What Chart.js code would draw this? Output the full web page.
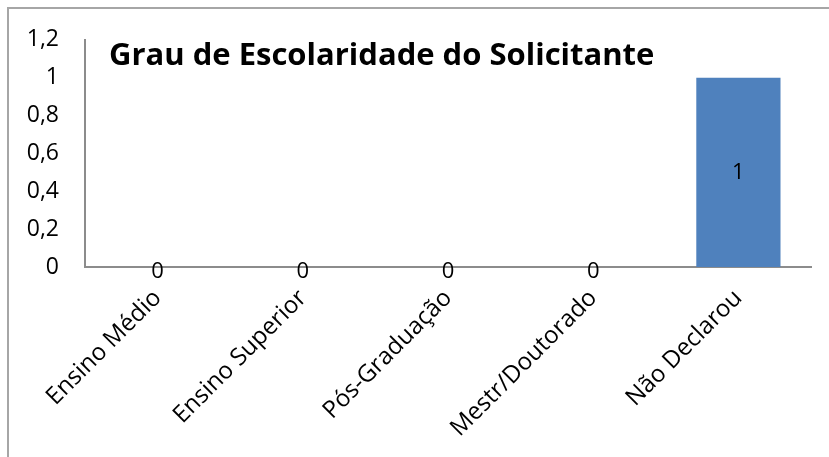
<!DOCTYPE html>
<html>
<head>
<meta charset="utf-8">
<script src="https://cdn.jsdelivr.net/npm/chart.js@4.4.0/dist/chart.umd.min.js"></script>
<style>
  html, body { margin: 0; padding: 0; background: #ffffff; }
  #wrap { position: relative; width: 829px; height: 457px; overflow: hidden; }
  #frame {
    position: absolute; left: 7px; top: 7px; width: 900px; height: 600px;
    border: 2px solid #a6a6a6; box-sizing: border-box;
  }
  canvas { position: absolute; left: 0; top: 0; }
</style>
</head>
<body>
<div id="wrap">
  <div id="frame"></div>
  <canvas id="grau" width="829" height="457"></canvas>
</div>
<script>
// Grau de Escolaridade do Solicitante - data
const categories = ['Ensino Médio', 'Ensino Superior', 'Pós-Graduação', 'Mestr/Doutorado', 'Não Declarou'];
const values = [0, 0, 0, 0, 1];
const chartTitle = 'Grau de Escolaridade do Solicitante';

const FONT = '"Open Sans", "DejaVu Sans", sans-serif';
const AXIS_COLOR = '#8c8c8c';

// format numbers with decimal comma
function fmt(v) {
    return String(Math.round(v * 10) / 10).replace('.', ',');
}

// value labels: zero at the base, others in the middle of the bar
const valueLabels = {
    id: 'valueLabels',
    afterDatasetsDraw(chart) {
        const ctx = chart.ctx;
        const meta = chart.getDatasetMeta(0);
        ctx.save();
        ctx.font = '22px ' + FONT;
        ctx.fillStyle = '#000000';
        ctx.textAlign = 'center';
        ctx.textBaseline = 'middle';
        meta.data.forEach((bar, i) => {
            const v = chart.data.datasets[0].data[i];
            const y = v === 0 ? bar.base + 5 : (bar.y + bar.base) / 2;
            ctx.fillText(fmt(v), bar.x, y);
        });
        ctx.restore();
    }
};

// title sits inside the plot area, top left
const innerTitle = {
    id: 'innerTitle',
    afterDraw(chart) {
        const ctx = chart.ctx;
        ctx.save();
        ctx.font = 'bold 31px ' + FONT;
        ctx.fillStyle = '#000000';
        ctx.textAlign = 'left';
        ctx.textBaseline = 'alphabetic';
        ctx.fillText(chartTitle, 109, 65);
        ctx.restore();
    }
};

const ctx = document.getElementById('grau').getContext('2d');
new Chart(ctx, {
    type: 'bar',
    data: {
        labels: categories,
        datasets: [{
            data: values,
            backgroundColor: '#4f81bd',
            borderWidth: 0,
            categoryPercentage: 1,
            barPercentage: 0.58
        }]
    },
    options: {
        responsive: false,
        animation: false,
        devicePixelRatio: 1,
        layout: { padding: { top: 35, right: 18, bottom: 0, left: 0 } },
        plugins: {
            legend: { display: false },
            tooltip: { enabled: false },
            title: { display: false }
        },
        scales: {
            x: {
                grid: { display: false, drawTicks: false },
                border: { display: true, color: AXIS_COLOR, width: 2 },
                ticks: {
                    color: '#000000',
                    font: { family: FONT, size: 24 },
                    minRotation: 45,
                    maxRotation: 45,
                    padding: 17,
                    autoSkip: false
                },
                afterFit(scale) { scale.height = 190; }
            },
            y: {
                min: 0,
                max: 1.2,
                grid: { display: false, drawTicks: false },
                border: { display: true, color: AXIS_COLOR, width: 2 },
                ticks: {
                    stepSize: 0.2,
                    color: '#000000',
                    font: { family: FONT, size: 23 },
                    padding: 26,
                    callback: v => fmt(v)
                },
                afterFit(scale) { scale.width = 85; }
            }
        }
    },
    plugins: [valueLabels, innerTitle]
});
</script>
</body>
</html>
